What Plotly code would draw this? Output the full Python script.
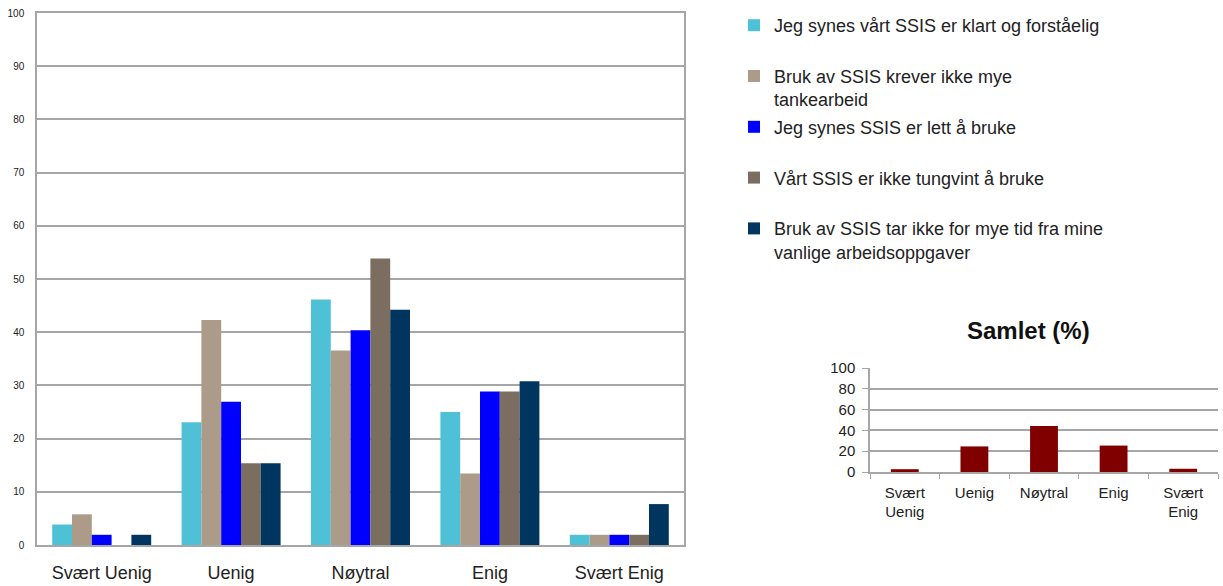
import plotly.graph_objects as go

# Response categories
categories = ["Svært Uenig", "Uenig", "Nøytral", "Enig", "Svært Enig"]
categories_short = ["Svært<br>Uenig", "Uenig", "Nøytral", "Enig", "Svært<br>Enig"]

# Statements (legend labels)
statements = [
    "Jeg synes vårt SSIS er klart og forståelig<br> ",
    "Bruk av SSIS krever ikke mye<br>tankearbeid",
    "Jeg synes SSIS er lett å bruke<br> ",
    "Vårt SSIS er ikke tungvint å bruke<br> ",
    "Bruk av SSIS tar ikke for mye tid fra mine<br>vanlige arbeidsoppgaver",
]

# Share of answers (%) per statement
klart = [3.85, 23.08, 46.15, 25.0, 1.92]
tankearbeid = [5.77, 42.31, 36.54, 13.46, 1.92]
lett = [1.92, 26.92, 40.38, 28.85, 1.92]
tungvint = [0.0, 15.38, 53.85, 28.85, 1.92]
tid = [1.92, 15.38, 44.23, 30.77, 7.69]

# Overall share (%)
samlet = [2.7, 24.6, 44.2, 25.4, 3.1]

series = [klart, tankearbeid, lett, tungvint, tid]
colors = ["#4FC1D6", "#AC9B89", "#0000FF", "#7B6E60", "#00355F"]

FONT = "Liberation Sans"
GRID = "#A6A6A6"
W, H = 1223, 586

fig = go.Figure()

for i, (name, vals, col) in enumerate(zip(statements, series, colors)):
    fig.add_trace(go.Bar(
        x=categories, y=vals, name=name, legendgroup=f"g{i}",
        marker=dict(color=col, line=dict(width=0)),
        xaxis="x", yaxis="y",
    ))

fig.add_trace(go.Bar(
    x=categories_short, y=samlet, name="Samlet",
    marker=dict(color="#800000", line=dict(width=0)),
    showlegend=False, xaxis="x2", yaxis="y2", width=0.4,
))

def px_x(p):
    return p / W

def px_y(p):
    return 1 - p / H

fig.update_layout(
    template="none",
    width=W, height=H,
    margin=dict(l=0, r=0, t=0, b=0, autoexpand=False),
    paper_bgcolor="white", plot_bgcolor="white",
    font=dict(family=FONT, color="#222222"),
    barmode="group", bargap=0.235, bargroupgap=0,
    showlegend=True,
    legend=dict(
        x=px_x(734), y=px_y(7), xanchor="left", yanchor="top",
        font=dict(family=FONT, size=18, color="#222222"),
        valign="top", traceorder="grouped", tracegroupgap=1, itemwidth=30,
        bgcolor="rgba(0,0,0,0)", borderwidth=0,
    ),
    xaxis=dict(
        domain=[px_x(37), px_x(684)], automargin=False,
        showline=True, linecolor=GRID, linewidth=1.5, mirror=True,
        showgrid=False, ticks="", ticklabelstandoff=11,
        tickfont=dict(family=FONT, size=18, color="#222222"),
        anchor="y",
    ),
    yaxis=dict(
        domain=[px_y(545), px_y(13)], automargin=False,
        range=[0, 100], dtick=10,
        showline=True, linecolor=GRID, linewidth=1.5, mirror=True,
        showgrid=True, gridcolor=GRID, gridwidth=1.5,
        ticks="", ticklabelstandoff=9, zeroline=False,
        tickfont=dict(family=FONT, size=10, color="#222222"),
        anchor="x",
    ),
    xaxis2=dict(
        domain=[px_x(870), px_x(1218)], automargin=False,
        showline=True, linecolor=GRID, linewidth=1.5,
        showgrid=False, ticks="outside", ticklen=5, tickcolor=GRID,
        tickson="boundaries", ticklabelstandoff=6,
        tickfont=dict(family=FONT, size=15, color="#222222"),
        anchor="y2",
    ),
    yaxis2=dict(
        domain=[px_y(472), px_y(368)], automargin=False,
        range=[0, 100], dtick=20,
        showline=True, linecolor=GRID, linewidth=1.5,
        showgrid=True, gridcolor=GRID, gridwidth=1.5,
        ticks="outside", ticklen=6, tickcolor=GRID, zeroline=False,
        ticklabelstandoff=4,
        tickfont=dict(family=FONT, size=15, color="#222222"),
        anchor="x2",
    ),
)

fig.add_annotation(
    text="<b>Samlet (%)</b>", x=px_x(1028), y=px_y(330),
    xref="paper", yref="paper", showarrow=False,
    font=dict(family=FONT, size=24, color="#111111"),
    xanchor="center", yanchor="middle",
)

fig.write_html("out.html")
